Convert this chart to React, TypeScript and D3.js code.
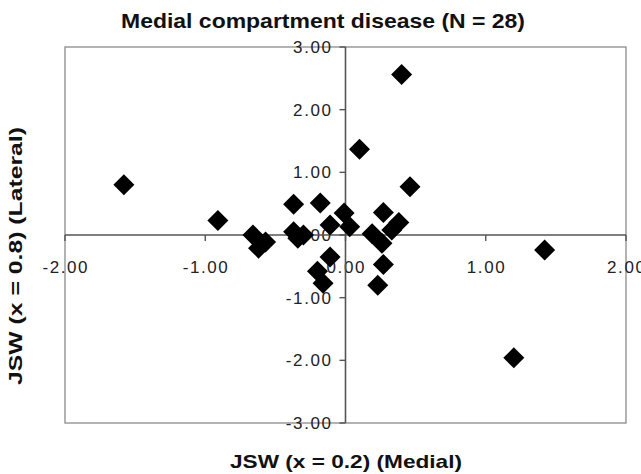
import React from "react";
import * as d3 from "d3";

const xTicks = [-2, -1, 0, 1, 2];
const yTicks = [-3, -2, -1, 0, 1, 2, 3];

const medialJSW = [
  -1.58, -0.91, -0.66, -0.57, -0.62, -0.37, -0.18, -0.37, -0.3, 0.4,
  0.1, 0.46, 1.42, 1.2, -0.01, -0.11, 0.03, 0.27, 0.38, 0.19,
  0.26, 0.27, 0.23, -0.11, -0.2, -0.16, -0.34, 0.33,
];
const lateralJSW = [
  0.8, 0.23, 0.0, -0.11, -0.21, 0.49, 0.51, 0.05, 0.0, 2.56,
  1.37, 0.77, -0.24, -1.96, 0.35, 0.16, 0.13, 0.36, 0.2, 0.02,
  -0.13, -0.47, -0.8, -0.35, -0.58, -0.77, -0.05, 0.08,
];

const W = 641;
const H = 474;
const plot = { left: 65, right: 626, top: 47, bottom: 423 };
const font = "'Liberation Sans', Arial, sans-serif";

export default function App() {
  const x = d3.scaleLinear().domain([-2, 2]).range([plot.left, plot.right]);
  const y = d3.scaleLinear().domain([-3, 3]).range([plot.bottom, plot.top]);
  const x0 = x(0);
  const y0 = y(0);
  const r = 10.5;
  const diamond = (cx: number, cy: number) =>
    `M${cx},${cy - r}L${cx + r},${cy}L${cx},${cy + r}L${cx - r},${cy}Z`;
  const ls = 1.6;

  return (
    <svg
      width={W}
      height={H}
      style={{ position: "absolute", left: 0, top: 0, background: "#fff" }}
    >
      <rect x={0} y={0} width={W} height={H} fill="#fff" />
      <text
        x={323}
        y={28}
        textAnchor="middle"
        fontFamily={font}
        fontWeight="bold"
        fontSize={21}
        textLength={404}
        lengthAdjust="spacingAndGlyphs"
        fill="#111"
      >
        Medial compartment disease (N = 28)
      </text>
      <rect
        x={plot.left}
        y={plot.top}
        width={plot.right - plot.left}
        height={plot.bottom - plot.top}
        fill="#fff"
        stroke="#8a8a8a"
        strokeWidth={1.3}
      />
      {xTicks.map((t) => (
        <text
          key={"xl" + t}
          x={x(t) + ls / 2}
          y={273}
          textAnchor="middle"
          fontFamily={font}
          fontSize={17}
          letterSpacing={ls}
          fill="#222"
        >
          {t.toFixed(2)}
        </text>
      ))}
      {yTicks.map((t) => (
        <text
          key={"yl" + t}
          x={331 + ls}
          y={y(t) + 6}
          textAnchor="end"
          fontFamily={font}
          fontSize={17}
          letterSpacing={ls}
          fill="#222"
        >
          {t.toFixed(2)}
        </text>
      ))}
      <line x1={plot.left} x2={plot.right} y1={y0} y2={y0} stroke="#555" strokeWidth={1.6} />
      <line x1={x0} x2={x0} y1={plot.top} y2={plot.bottom} stroke="#555" strokeWidth={1.6} />
      {xTicks.map((t) => (
        <line key={"xt" + t} x1={x(t)} x2={x(t)} y1={y0} y2={y0 + 6} stroke="#555" strokeWidth={1.4} />
      ))}
      {yTicks.map((t) => (
        <line key={"yt" + t} x1={x0 - 6} x2={x0} y1={y(t)} y2={y(t)} stroke="#555" strokeWidth={1.4} />
      ))}
      {medialJSW.map((m, i) => (
        <path key={"p" + i} d={diamond(x(m), y(lateralJSW[i]))} fill="#000" />
      ))}
      <text
        x={346}
        y={468}
        textAnchor="middle"
        fontFamily={font}
        fontWeight="bold"
        fontSize={18.5}
        textLength={232}
        lengthAdjust="spacingAndGlyphs"
        fill="#111"
      >
        JSW (x = 0.2) (Medial)
      </text>
      <text
        transform={`translate(22,256) rotate(-90)`}
        textAnchor="middle"
        fontFamily={font}
        fontWeight="bold"
        fontSize={17.5}
        textLength={258}
        lengthAdjust="spacingAndGlyphs"
        fill="#111"
      >
        JSW (x = 0.8) (Lateral)
      </text>
    </svg>
  );
}
